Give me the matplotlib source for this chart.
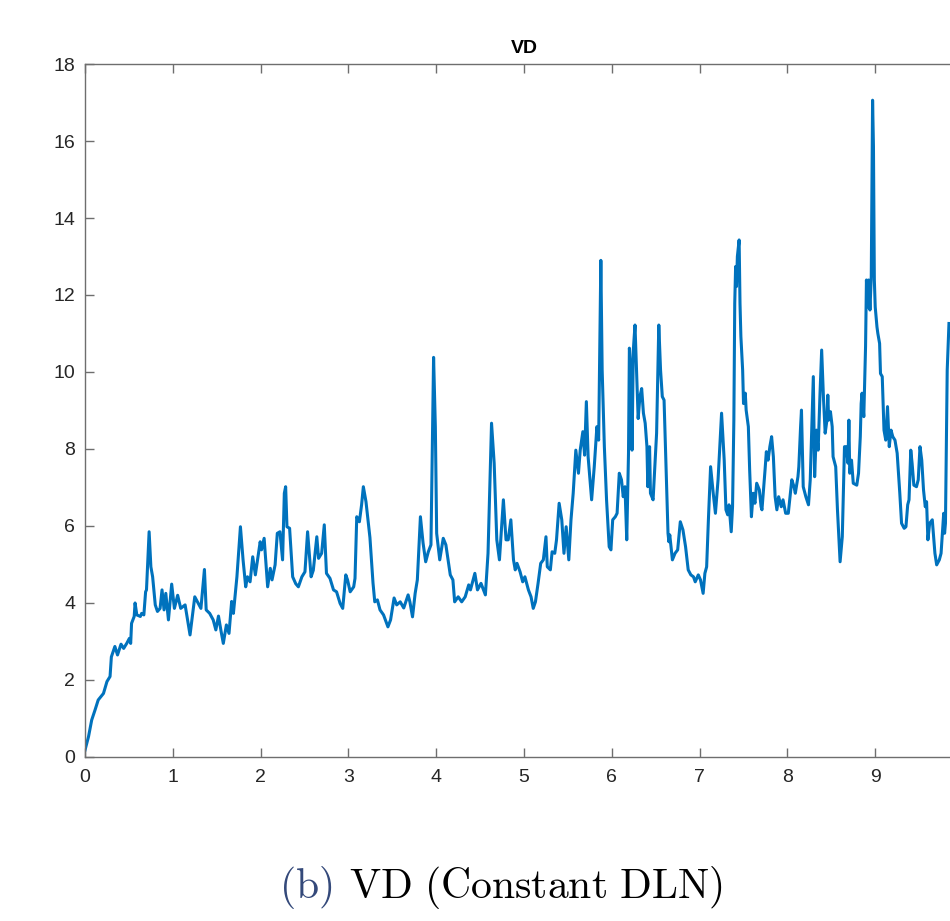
import matplotlib
matplotlib.use("Agg")
import matplotlib.pyplot as plt

# time axis / VD values
t_vals = [
    0.0, 0.04, 0.076, 0.114, 0.15, 0.21, 0.25, 0.285, 0.30, 0.34, 0.37, 0.41, 0.44, 0.475, 0.505,
    0.52, 0.53, 0.56, 0.57, 0.59, 0.63, 0.645, 0.67, 0.69, 0.70, 0.73, 0.75, 0.77, 0.80, 0.825,
    0.855, 0.877, 0.90, 0.92, 0.95, 0.987, 1.018, 1.055, 1.09, 1.14, 1.196, 1.25, 1.29, 1.32,
    1.36, 1.38, 1.42, 1.46, 1.49, 1.52, 1.55, 1.575, 1.61, 1.64, 1.67, 1.69, 1.73, 1.77, 1.80,
    1.83, 1.85, 1.88, 1.91, 1.94, 1.995, 2.01, 2.04, 2.08, 2.11, 2.13, 2.165, 2.19, 2.22, 2.25,
    2.27, 2.285, 2.30, 2.33, 2.365, 2.40, 2.43, 2.47, 2.505, 2.535, 2.575, 2.60, 2.64, 2.66,
    2.695, 2.725, 2.75, 2.79, 2.83, 2.865, 2.905, 2.935, 2.97, 2.99, 3.02, 3.06, 3.075, 3.095,
    3.125, 3.15, 3.17, 3.20, 3.245,
    3.28, 3.30, 3.33, 3.36, 3.40, 3.45, 3.48, 3.52, 3.55, 3.59, 3.63, 3.68, 3.70, 3.73, 3.76,
    3.785, 3.82, 3.85, 3.88, 3.91, 3.94, 3.97, 3.99, 4.005, 4.04, 4.08, 4.11, 4.16, 4.19, 4.21,
    4.25, 4.29, 4.33, 4.37, 4.39, 4.44, 4.47, 4.51, 4.56, 4.59, 4.63, 4.66, 4.69, 4.72, 4.765,
    4.795, 4.82, 4.85, 4.88, 4.90, 4.92, 4.955, 4.985, 5.01, 5.05, 5.08, 5.105, 5.13, 5.16, 5.19,
    5.22, 5.25, 5.265, 5.30, 5.32, 5.35, 5.37, 5.40, 5.43, 5.455, 5.48, 5.51, 5.535, 5.56, 5.59,
    5.62, 5.64, 5.67, 5.69, 5.71, 5.73, 5.77, 5.80, 5.83, 5.85, 5.875, 5.89, 5.915, 5.94, 5.97,
    5.99, 6.01, 6.04, 6.06, 6.085, 6.11, 6.13, 6.15, 6.17, 6.19, 6.20, 6.215, 6.23, 6.245, 6.264,
    6.28, 6.30, 6.32, 6.34, 6.36, 6.38, 6.40, 6.41, 6.43, 6.44, 6.47, 6.49, 6.51, 6.535, 6.555,
    6.575, 6.595, 6.62, 6.64,
    6.65, 6.66, 6.69, 6.72, 6.75, 6.78, 6.81, 6.84, 6.87, 6.90, 6.93, 6.95, 6.985, 7.01, 7.04,
    7.06, 7.08, 7.10, 7.125, 7.155, 7.18, 7.21, 7.25, 7.28, 7.30, 7.32, 7.335, 7.36, 7.375, 7.39,
    7.40, 7.41, 7.42, 7.43, 7.45, 7.46, 7.47, 7.49, 7.50, 7.52, 7.53, 7.555, 7.57, 7.59, 7.61,
    7.63, 7.65, 7.68, 7.70, 7.71, 7.745, 7.76, 7.78, 7.80, 7.82, 7.84, 7.86, 7.88, 7.90, 7.93,
    7.95, 7.98, 8.01, 8.03, 8.05, 8.075, 8.09, 8.12, 8.13,
    8.15, 8.16, 8.18, 8.21, 8.24, 8.26, 8.295, 8.31, 8.33, 8.35, 8.37, 8.39, 8.41, 8.43, 8.45,
    8.46, 8.47, 8.49, 8.51, 8.52, 8.55, 8.57, 8.60, 8.625, 8.65, 8.67, 8.69, 8.70, 8.71, 8.73,
    8.75, 8.79, 8.81, 8.83, 8.84, 8.85, 8.87, 8.89, 8.90, 8.91, 8.925, 8.94, 8.955, 8.97, 8.98,
    8.99, 9.00, 9.02, 9.03, 9.05, 9.06, 9.08, 9.10, 9.12, 9.14, 9.16, 9.18, 9.20, 9.225, 9.25,
    9.28, 9.30, 9.33, 9.35, 9.37, 9.385, 9.405, 9.42, 9.44, 9.47, 9.49, 9.51, 9.53, 9.55, 9.57,
    9.585, 9.60, 9.62, 9.65, 9.68, 9.70, 9.73, 9.75, 9.78, 9.79, 9.80, 9.82, 9.84,
]
vd_vals = [
    0.18, 0.53, 0.96, 1.22, 1.48, 1.65, 1.96, 2.09, 2.6, 2.87, 2.65, 2.93, 2.82, 2.95, 3.08,
    2.95, 3.47, 3.65, 4.0, 3.69, 3.65, 3.73, 3.69, 4.29, 4.34, 5.85, 4.94, 4.68, 3.95, 3.78,
    3.86, 4.34, 3.82, 4.25, 3.56, 4.49, 3.86, 4.2, 3.86, 3.95, 3.17, 4.16, 3.99, 3.86,
    4.87, 3.82, 3.73, 3.56, 3.3, 3.66, 3.26, 2.95, 3.43, 3.21, 4.04, 3.73, 4.68, 5.98, 5.12,
    4.42, 4.68, 4.55, 5.2, 4.73, 5.59, 5.38, 5.68, 4.42, 4.9, 4.6, 4.99, 5.81, 5.85, 5.12,
    6.85, 7.02, 5.98, 5.94, 4.68, 4.5, 4.42, 4.68, 4.81, 5.85, 4.68, 4.85, 5.72, 5.16,
    5.29, 6.03, 4.77, 4.64, 4.34, 4.29, 3.99, 3.86, 4.73, 4.6, 4.29, 4.42, 4.64, 6.24,
    6.11, 6.55, 7.02, 6.63, 5.7,
    4.52, 4.03, 4.08, 3.82, 3.69, 3.38, 3.56, 4.13, 3.95, 4.03, 3.87, 4.21, 4.03, 3.64, 4.25,
    4.6, 6.24, 5.56, 5.07, 5.33, 5.51, 10.38, 8.58, 5.81, 5.12, 5.68, 5.51, 4.73, 4.6, 4.03,
    4.16, 4.03, 4.16, 4.47, 4.34, 4.77, 4.34, 4.51, 4.21, 5.29, 8.67, 7.63, 5.64, 5.12, 6.68,
    5.64, 5.64, 6.16, 5.12, 4.86, 5.03, 4.81, 4.55, 4.68, 4.34, 4.16, 3.86, 4.03, 4.51, 5.03,
    5.12, 5.72, 4.94, 4.86, 5.33, 5.29, 5.64, 6.59, 6.16, 5.29, 5.98, 5.12, 6.16, 6.85, 7.97,
    7.37, 7.97, 8.45, 7.84, 9.23, 7.8, 6.68, 7.54, 8.58, 8.23, 12.9, 10.05, 8.06, 6.68, 5.46,
    5.38, 6.16, 6.24, 6.33, 7.37, 7.2, 6.76, 7.02, 5.64, 7.89, 10.62, 10.14, 7.97, 10.57, 11.22,
    10.14, 8.79, 9.36, 9.57, 8.93, 8.67, 8.06, 7.02, 8.06, 6.85, 6.68, 7.54, 8.41, 11.22, 10.05,
    9.36, 9.27, 7.37, 5.81,
    5.59, 5.77, 5.12, 5.29, 5.38, 6.11, 5.9, 5.46, 4.86, 4.73, 4.68, 4.55, 4.73, 4.6, 4.25,
    4.77, 4.94, 6.16, 7.54, 6.85, 6.33, 7.2, 8.93, 7.71, 6.42, 6.29, 6.55, 5.85, 6.5, 8.75,
    11.78, 12.74, 12.22, 13.0, 13.43, 11.78, 10.92, 10.05, 9.18, 9.45, 9.01, 8.58, 7.45, 6.24, 6.85,
    6.59, 7.11, 6.94, 6.5, 6.42, 7.45, 7.93, 7.71, 8.06, 8.32, 7.8, 6.76, 6.42, 6.76, 6.5,
    6.68, 6.33, 6.33, 6.76, 7.2, 7.02, 6.85, 7.28, 7.54,
    8.58, 9.01, 7.02, 6.76, 6.55, 7.2, 9.88, 7.28, 8.49, 7.97, 9.36, 10.57, 9.36, 8.41, 8.75,
    9.4, 8.75, 8.97, 8.58, 7.8, 7.54, 6.42, 5.07, 5.72, 8.06, 8.06, 7.63, 8.75, 7.37, 7.71,
    7.11, 7.06, 7.37, 8.32, 9.18, 9.45, 8.84, 10.66, 12.39, 11.69, 12.39, 11.61, 12.48, 17.06, 15.85,
    12.39, 11.69, 11.17, 11.0, 10.74, 9.96, 9.88, 8.49, 8.23, 9.1, 8.06, 8.49, 8.32, 8.23, 7.89,
    6.85, 6.07, 5.94, 5.98, 6.55, 6.68, 7.97, 7.63, 7.06, 7.02, 7.2, 8.06, 7.71, 6.94, 6.5,
    6.63, 5.64, 6.07, 6.16, 5.29, 4.99, 5.12, 5.29, 6.33, 5.81, 6.07, 10.05, 11.26,
]

x_ticks = [0, 1, 2, 3, 4, 5, 6, 7, 8, 9]
y_ticks = [0, 2, 4, 6, 8, 10, 12, 14, 16, 18]

fig = plt.figure(figsize=(9.5, 9.21), dpi=100)
# axes run past the right edge of the picture (the original is cropped there)
ax = fig.add_axes([0.0895, 0.1781, 0.9242, 0.7524])

ax.plot(t_vals, vd_vals, color='#0072BD', linewidth=2.2)

ax.set_xlim(0, 10)
ax.set_ylim(0, 18)
ax.set_xticks(x_ticks)
ax.set_yticks(y_ticks)

for sp in ax.spines.values():
    sp.set_color('#6e6e6e')
    sp.set_linewidth(1.0)
ax.tick_params(direction='in', length=6.5, width=1.0, color='#6e6e6e',
               top=True, right=True, labelsize=14, labelcolor='#262626')
ax.tick_params(axis='x', pad=9)
ax.tick_params(axis='y', pad=7)
for lbl in ax.get_xticklabels() + ax.get_yticklabels():
    lbl.set_fontfamily('Liberation Sans')

ax.set_title('VD', fontsize=14, fontweight='bold', family='Liberation Sans',
             color='black', pad=8)

# caption under the plot
plt.rcParams['mathtext.fontset'] = 'cm'
fig.text(332 / 950, 23 / 921, r'$\mathrm{(b)}$', color='#34497a', fontsize=30,
         ha='right', va='baseline')
fig.text(349 / 950, 23 / 921, r'$\mathrm{VD\ (Constant\ DLN)}$', color='black', fontsize=30,
         ha='left', va='baseline')

fig.savefig('out.png', dpi=100)
